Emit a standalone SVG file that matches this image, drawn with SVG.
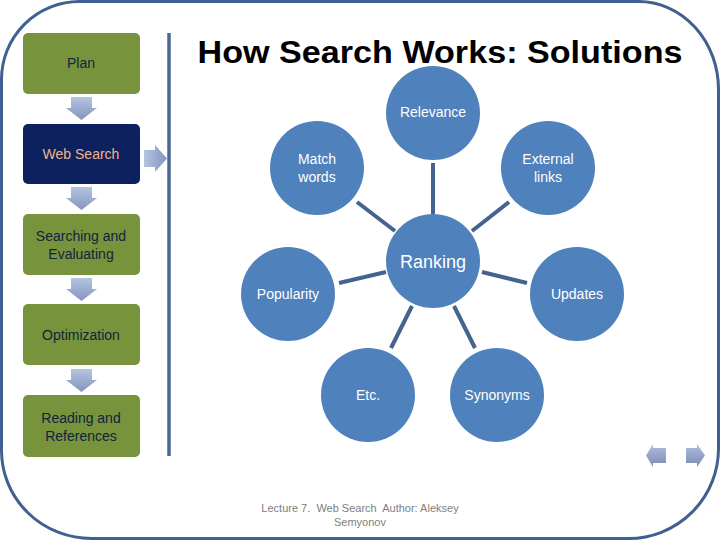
<svg xmlns="http://www.w3.org/2000/svg" width="720" height="540" viewBox="0 0 720 540">
<defs>
<style>
.box{fill:#77933c}
.lbl{font-family:"Liberation Sans",Arial,sans-serif;font-size:14px;text-anchor:middle;fill:#10243f}
.cl{font-family:"Liberation Sans",Arial,sans-serif;font-size:14px;text-anchor:middle;fill:#ffffff}
.circ{fill:#4f81bd}
.conn line{stroke:#44638f;stroke-width:4}
.foot{font-family:"Liberation Sans",Arial,sans-serif;font-size:11px;text-anchor:middle;fill:#808080;white-space:pre}
</style>
<linearGradient id="gv" x1="0" y1="0" x2="0" y2="1">
<stop offset="0" stop-color="#b4c4e0"/>
<stop offset="1" stop-color="#8595bf"/>
</linearGradient>
<linearGradient id="gh" x1="0" y1="0" x2="1" y2="0">
<stop offset="0" stop-color="#b4c4e0"/>
<stop offset="1" stop-color="#8595bf"/>
</linearGradient>
<linearGradient id="gn" x1="0" y1="0" x2="0" y2="1">
<stop offset="0" stop-color="#aebde0"/>
<stop offset="1" stop-color="#7f8cb3"/>
</linearGradient>
</defs>
<rect width="720" height="540" fill="#ffffff"/>
<path d="M80,1.5 H638 A80,88 0 0 1 718.5,90 V448 A90,90 0 0 1 628,538.5 H92 A90,88 0 0 1 1.5,450 V80 A78,78 0 0 1 80,1.5 Z" fill="none" stroke="#3f6090" stroke-width="3"/>
<line x1="169" y1="33" x2="169" y2="456" stroke="#4a6a96" stroke-width="3.5"/>
<text x="440" y="63" font-family="'Liberation Sans',Arial,sans-serif" font-size="32" font-weight="bold" text-anchor="middle" fill="#000000" textLength="485" lengthAdjust="spacingAndGlyphs">How Search Works: Solutions</text>

<g id="plan"><rect class="box" x="23" y="33" width="117" height="61" rx="5"/><text class="lbl" x="81" y="68">Plan</text></g>
<g id="websearch"><rect x="23" y="124" width="117" height="60" rx="5" fill="#0c215e"/><text class="lbl" x="81" y="159" style="fill:#f0b48c">Web Search</text></g>
<g id="searching"><rect class="box" x="23" y="214" width="117" height="61" rx="5"/><text class="lbl" x="81" y="241">Searching and</text><text class="lbl" x="81" y="259">Evaluating</text></g>
<g id="optimization"><rect class="box" x="23" y="304" width="117" height="61" rx="5"/><text class="lbl" x="81" y="340">Optimization</text></g>
<g id="reading"><rect class="box" x="23" y="395" width="117" height="62" rx="5"/><text class="lbl" x="81" y="423">Reading and</text><text class="lbl" x="81" y="441">References</text></g>

<g id="flow-arrows">
<polygon points="71,97 92,97 92,108 97,108 81.5,120 66,108 71,108" fill="url(#gv)"/>
<polygon points="71,187 92,187 92,198 97,198 81.5,210 66,198 71,198" fill="url(#gv)"/>
<polygon points="71,278 92,278 92,289 97,289 81.5,301 66,289 71,289" fill="url(#gv)"/>
<polygon points="71,369 92,369 92,380 97,380 81.5,392 66,380 71,380" fill="url(#gv)"/>
<polygon points="144,150 155,150 155,145 167,158.5 155,172 155,167 144,167" fill="url(#gh)"/>
</g>

<g class="conn" id="connectors">
<line x1="433" y1="163" x2="433" y2="214"/>
<line x1="357" y1="202" x2="395" y2="231"/>
<line x1="509" y1="202" x2="472" y2="231"/>
<line x1="339" y1="283" x2="386" y2="272"/>
<line x1="482" y1="272" x2="527" y2="283"/>
<line x1="412" y1="306" x2="391" y2="348"/>
<line x1="454" y1="306" x2="475" y2="348"/>
</g>

<g id="relevance"><circle class="circ" cx="433" cy="113" r="47"/><text class="cl" x="433" y="117">Relevance</text></g>
<g id="match"><circle class="circ" cx="317" cy="168" r="47"/><text class="cl" x="317" y="164">Match</text><text class="cl" x="317" y="182">words</text></g>
<g id="external"><circle class="circ" cx="548" cy="168" r="47"/><text class="cl" x="548" y="164">External</text><text class="cl" x="548" y="182">links</text></g>
<g id="ranking"><circle class="circ" cx="433" cy="261" r="47"/><text class="cl" x="433" y="268" style="font-size:18px">Ranking</text></g>
<g id="popularity"><circle class="circ" cx="288" cy="294" r="47"/><text class="cl" x="288" y="299">Popularity</text></g>
<g id="updates"><circle class="circ" cx="577" cy="294" r="47"/><text class="cl" x="577" y="299">Updates</text></g>
<g id="etc"><circle class="circ" cx="368" cy="395" r="47"/><text class="cl" x="368" y="400">Etc.</text></g>
<g id="synonyms"><circle class="circ" cx="497" cy="395" r="47"/><text class="cl" x="497" y="400">Synonyms</text></g>

<text class="foot" x="360" y="512" xml:space="preserve">Lecture 7.  Web Search  Author: Aleksey</text>
<text class="foot" x="360" y="526">Semyonov</text>

<g id="nav">
<polygon points="646,455.5 653,444 653,448 666,448 666,463 653,463 653,467" fill="url(#gn)"/>
<polygon points="705,455.5 697,444 697,448 686,448 686,463 697,463 697,467" fill="url(#gn)"/>
</g>
</svg>
